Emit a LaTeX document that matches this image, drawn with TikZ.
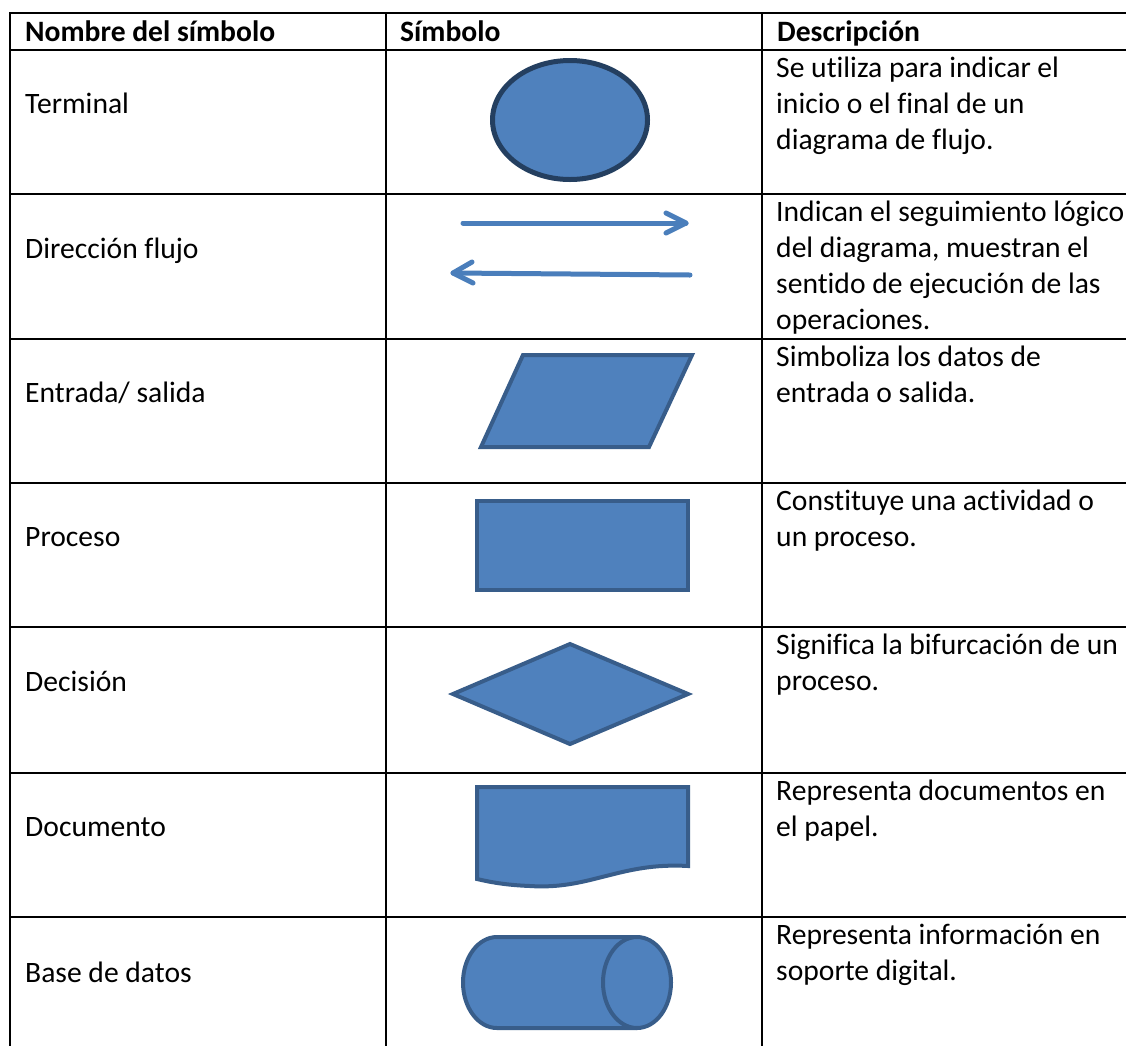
\documentclass[tikz,border=0pt]{standalone}
\usepackage{fontspec}
\setmainfont{Carlito}[Ligatures=CommonOff]
\usetikzlibrary{shapes.geometric}
\definecolor{shapefill}{HTML}{4F81BD}
\definecolor{shapeline}{HTML}{385D8A}
\definecolor{ovalline}{HTML}{243F60}
\definecolor{arrowblue}{HTML}{4A7EBB}
\tikzset{
  grid/.style={line width=2pt, black},
  sym/.style={fill=shapefill, draw=shapeline, line width=4pt, line join=miter},
  flowarrow/.style={draw=arrowblue, line width=5pt, line cap=round, line join=round},
  txt/.style={inner sep=0pt, anchor=base west, font=\fontsize{29.6}{36}\selectfont},
  hdr/.style={txt, font=\fontsize{29.6}{36}\selectfont\bfseries},
  desc/.style={txt, align=left}
}
\begin{document}
\begin{tikzpicture}[x=1pt,y=-1pt]
\useasboundingbox (0,0) rectangle (1126,1045);
% table grid
\foreach \yy in {13,50,194,339,483,627,773,917} \draw[grid] (9,\yy) -- (1127,\yy);
\foreach \xx in {10,386,762} \draw[grid] (\xx,12) -- (\xx,1046);
% header
\node[hdr] (h1) at (25,41) {Nombre del símbolo};
\node[hdr] (h2) at (400,41) {Símbolo};
\node[hdr] (h3) at (777,41) {Descripción};
% names
\node[txt] (n1) at (25,113) {Terminal};
\node[txt] (n2) at (25,258) {Dirección flujo};
\node[txt] (n3) at (25,402) {Entrada/ salida};
\node[txt] (n4) at (25,546) {Proceso};
\node[txt] (n5) at (25,691) {Decisión};
\node[txt] (n6) at (25,836) {Documento};
\node[txt] (n7) at (25,982) {Base de datos};
% descriptions (anchored at the baseline of the last line)
\node[desc] (d1) at (776,149) {Se utiliza para indicar el\\inicio o el final de un\\diagrama de flujo.};
\node[desc] (d2) at (776,329) {Indican el seguimiento lógico\\del diagrama, muestran el\\sentido de ejecución de las\\operaciones.};
\node[desc] (d3) at (776,402) {Simboliza los datos de\\entrada o salida.};
\node[desc] (d4) at (776,546) {Constituye una actividad o\\un proceso.};
\node[desc] (d5) at (776,690) {Significa la bifurcación de un\\proceso.};
\node[desc] (d6) at (776,836) {Representa documentos en\\el papel.};
\node[desc] (d7) at (776,980) {Representa información en\\soporte digital.};
% terminal
\node[ellipse, fill=shapefill, draw=ovalline, line width=5pt, minimum width=155pt, minimum height=119pt, inner sep=0pt] (term) at (570,120) {};
% flow arrows
\draw[flowarrow] (463,223) -- (686,223);
\draw[flowarrow] (666,213) -- (686,223) -- (666,233);
\draw[flowarrow] (690,275) -- (453,273);
\draw[flowarrow] (472,262) -- (453,273) -- (473,283);
% input/output
\draw[sym] (523,355) -- (692,355) -- (649,447) -- (481,447) -- cycle;
% process
\node[rectangle, sym, minimum width=211pt, minimum height=89pt, inner sep=0pt] (proc) at (582.5,545.5) {};
% decision
\draw[sym] (453,694) -- (570,644) -- (688,694) -- (570,744) -- cycle;
% document
\draw[sym] (477,787) -- (688,787) -- (688,866)
  .. controls (620,862) and (590,890) .. (530,886)
  .. controls (505,885) and (490,882) .. (477,879) -- cycle;
% database
\draw[sym] (637,937) -- (497,937) arc[start angle=270, end angle=90, x radius=34, y radius=45.5] -- (637,1028);
\draw[sym] (637,982.5) ellipse[x radius=34, y radius=45.5];
\end{tikzpicture}
\end{document}
